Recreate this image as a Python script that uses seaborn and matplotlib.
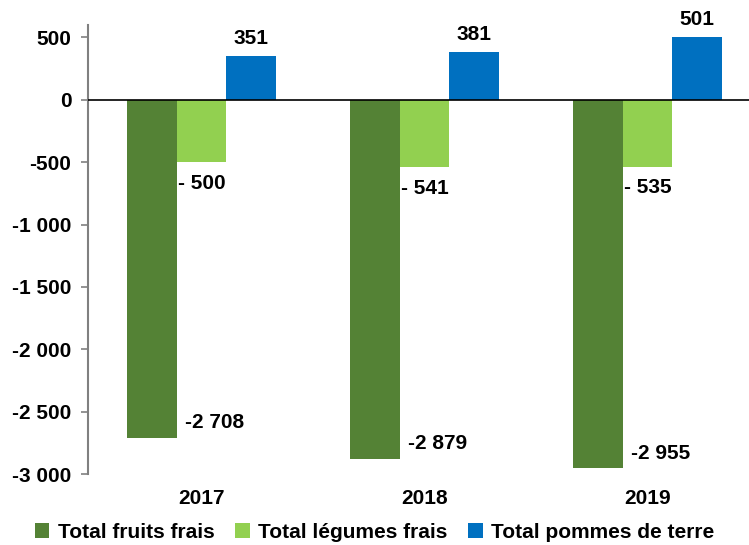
import pandas as pd
import matplotlib.pyplot as plt
import seaborn as sns
from matplotlib.ticker import FuncFormatter

years = ["2017", "2018", "2019"]
fruits = [-2708, -2879, -2955]
legumes = [-500, -541, -535]
pommes = [351, 381, 501]
series_names = ["Total fruits frais", "Total légumes frais", "Total pommes de terre"]
colors = ["#548235", "#92D050", "#0070C0"]

df = pd.DataFrame({
    "year": years * 3,
    "serie": [series_names[0]] * 3 + [series_names[1]] * 3 + [series_names[2]] * 3,
    "value": fruits + legumes + pommes,
})

sns.set_theme(style="white")
plt.rcParams['font.family'] = ['Liberation Sans', 'DejaVu Sans']
plt.rcParams['font.weight'] = 'bold'
plt.rcParams['text.color'] = 'black'
plt.rcParams['xtick.labelcolor'] = 'black'
plt.rcParams['ytick.labelcolor'] = 'black'

fs = 15
fig = plt.figure(figsize=(7.49, 5.45), dpi=100)
ax = fig.add_axes([88 / 749, 71 / 545, 661 / 749, 449 / 545])

sns.barplot(data=df, x="year", y="value", hue="serie", palette=colors,
            width=0.67, linewidth=0, saturation=1, ax=ax, legend=True)

ax.set_ylim(-3000, 600)
left = -0.5 - 2 / 223
ax.set_xlim(left, left + 661 / 223)
ax.set_yticks(range(-3000, 501, 500))
ax.yaxis.set_major_formatter(FuncFormatter(lambda v, p: f"{int(v):,}".replace(",", " ")))
ax.axhline(0, color="black", lw=1.2, zorder=3)

for s in ["top", "right", "bottom"]:
    ax.spines[s].set_visible(False)
ax.spines["left"].set_color("#808080")
ax.spines["left"].set_linewidth(1.5)
ax.spines["left"].set_bounds(-3000, 600)
ax.tick_params(axis="y", left=True, length=5, color="#808080", width=1.2, labelsize=fs, pad=7)
ax.tick_params(axis="x", bottom=False, labelsize=fs, pad=5)
for lbl in ax.get_xticklabels() + ax.get_yticklabels():
    lbl.set_fontweight("bold")
ax.set_xlabel("")
ax.set_ylabel("")

# data labels
for container, name in zip(ax.containers, series_names):
    for bar in container:
        v = bar.get_height()
        x0 = bar.get_x()
        w = bar.get_width()
        if name == series_names[0]:
            txt = f"{int(v):,}".replace(",", " ")
            ax.annotate(txt, (x0 + w, v), xytext=(6, 11), textcoords="offset points",
                        ha="left", va="center", fontsize=fs, fontweight="bold")
        elif name == series_names[1]:
            txt = "- " + f"{abs(int(v)):,}".replace(",", " ")
            ax.annotate(txt, (x0, v), xytext=(1, -15), textcoords="offset points",
                        ha="left", va="center", fontsize=fs, fontweight="bold")
        else:
            txt = f"{int(v)}"
            ax.annotate(txt, (x0 + w / 2, v), xytext=(0, 6), textcoords="offset points",
                        ha="center", va="bottom", fontsize=fs, fontweight="bold")

handles, labels = ax.get_legend_handles_labels()
ax.get_legend().remove()
fig.legend(handles, labels, loc="center", bbox_to_anchor=(0.5, 13 / 545), ncol=3,
           frameon=False, handlelength=0.7, handleheight=0.7,
           handletextpad=0.4, columnspacing=1.0, prop={"weight": "bold", "size": fs})

fig.savefig("out.png", dpi=100)
